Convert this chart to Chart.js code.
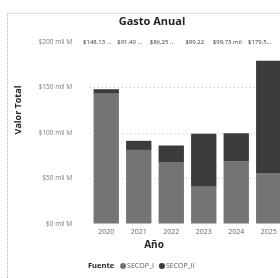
<!DOCTYPE html>
<html><head><meta charset="utf-8">
<script src="https://cdn.jsdelivr.net/npm/chart.js@4/dist/chart.umd.min.js"></script>
<style>
html,body{margin:0;padding:0;width:280px;height:278px;overflow:hidden;background:#fff;}
#wrap{position:absolute;left:0;top:0;width:300px;height:278px;}
#frame{position:absolute;left:7px;top:13px;width:290px;height:280px;border-left:1px dotted #b8b8b8;border-top:1px dotted #c8c8c8;}
</style></head>
<body>
<div id="frame"></div>
<div id="wrap"><canvas id="c" width="300" height="278"></canvas></div>
<script>
const years = ["2020","2021","2022","2023","2024","2025"];
const secopI = [143.13, 81.40, 68.00, 41.00, 68.50, 56.00];
const secopII = [5.00, 10.00, 18.25, 58.22, 31.23, 123.50];
const totalLabels = ["$148,13 ...", "$91,40 ...", "$86,25 ...", "$99,22", "$99,73 mil", "$179,5..."];
const yTicks = [0, 50, 100, 150, 200];
const yTickLabels = ["$0 mil M", "$50 mil M", "$100 mil M", "$150 mil M", "$200 mil M"];
const seriesNames = ["SECOP_I", "SECOP_II"];
const colI = "#747474", colII = "#3b3b3b";
const FONT = "'Open Sans', 'Noto Sans', sans-serif";

const textPlugin = {
  id: 'texts',
  afterDraw(chart) {
    const ctx = chart.ctx;
    const x = chart.scales.x, y = chart.scales.y;
    ctx.save();
    // title
    ctx.fillStyle = "#252423";
    ctx.font = "bold 11px " + FONT;
    ctx.textAlign = "center"; ctx.textBaseline = "middle";
    ctx.fillText("Gasto Anual", 152, 22);
    // total labels
    ctx.font = "6px " + FONT;
    ctx.fillStyle = "#333";
    totalLabels.forEach((t, i) => {
      ctx.fillText(t, x.getPixelForValue(i) - 9, y.getPixelForValue(200));
    });
    // y title
    ctx.save();
    ctx.translate(18, 110);
    ctx.rotate(-Math.PI / 2);
    ctx.font = "bold 9px " + FONT;
    ctx.fillStyle = "#252423";
    ctx.fillText("Valor Total", 0, 0);
    ctx.restore();
    // x title
    ctx.font = "bold 10px " + FONT;
    ctx.fillStyle = "#252423";
    ctx.fillText("Año", 154, 245);
    // legend
    ctx.textAlign = "left";
    ctx.font = "bold 7.5px " + FONT;
    ctx.fillText("Fuente", 88, 266);
    let lx = 88 + ctx.measureText("Fuente").width + 6;
    ctx.font = "7px " + FONT;
    [colI, colII].forEach((c, i) => {
      ctx.fillStyle = c;
      ctx.beginPath(); ctx.arc(lx + 3, 266, 3, 0, Math.PI * 2); ctx.fill();
      ctx.fillStyle = "#555";
      ctx.fillText(seriesNames[i], lx + 7, 266);
      lx += 7 + ctx.measureText(seriesNames[i]).width + 5;
    });
    ctx.restore();
  }
};

new Chart(document.getElementById('c'), {
  type: 'bar',
  data: {
    labels: years,
    datasets: [
      {label: seriesNames[0], data: secopI, backgroundColor: colI, barPercentage: 0.78, categoryPercentage: 1},
      {label: seriesNames[1], data: secopII, backgroundColor: colII, barPercentage: 0.78, categoryPercentage: 1}
    ]
  },
  options: {
    responsive: false, animation: false,
    layout: {padding: {left: 0, top: 42, right: 15, bottom: 40}},
    plugins: {legend: {display: false}, title: {display: false}, tooltip: {enabled: false}},
    scales: {
      x: {
        stacked: true,
        grid: {display: false, drawTicks: false},
        border: {display: false},
        ticks: {color: "#666", font: {family: FONT, size: 7}, padding: 4, maxRotation: 0},
        afterFit(s) { s.height = 14; }
      },
      y: {
        stacked: true, min: 0, max: 200,
        afterBuildTicks(s) { s.ticks = yTicks.map(v => ({value: v})); },
        afterFit(s) { s.width = 90; },
        grid: {
          drawTicks: false,
          color: ctx => (ctx.tick && (ctx.tick.value === 0 || ctx.tick.value === 200)) ? 'rgba(0,0,0,0)' : '#c4c4c4',
          lineWidth: 1
        },
        border: {display: false, dash: [1, 3]},
        ticks: {
          color: "#777", font: {family: FONT, size: 6.5}, padding: 18,
          callback: (v) => yTickLabels[yTicks.indexOf(v)]
        }
      }
    }
  },
  plugins: [textPlugin]
});
</script>
</body></html>
